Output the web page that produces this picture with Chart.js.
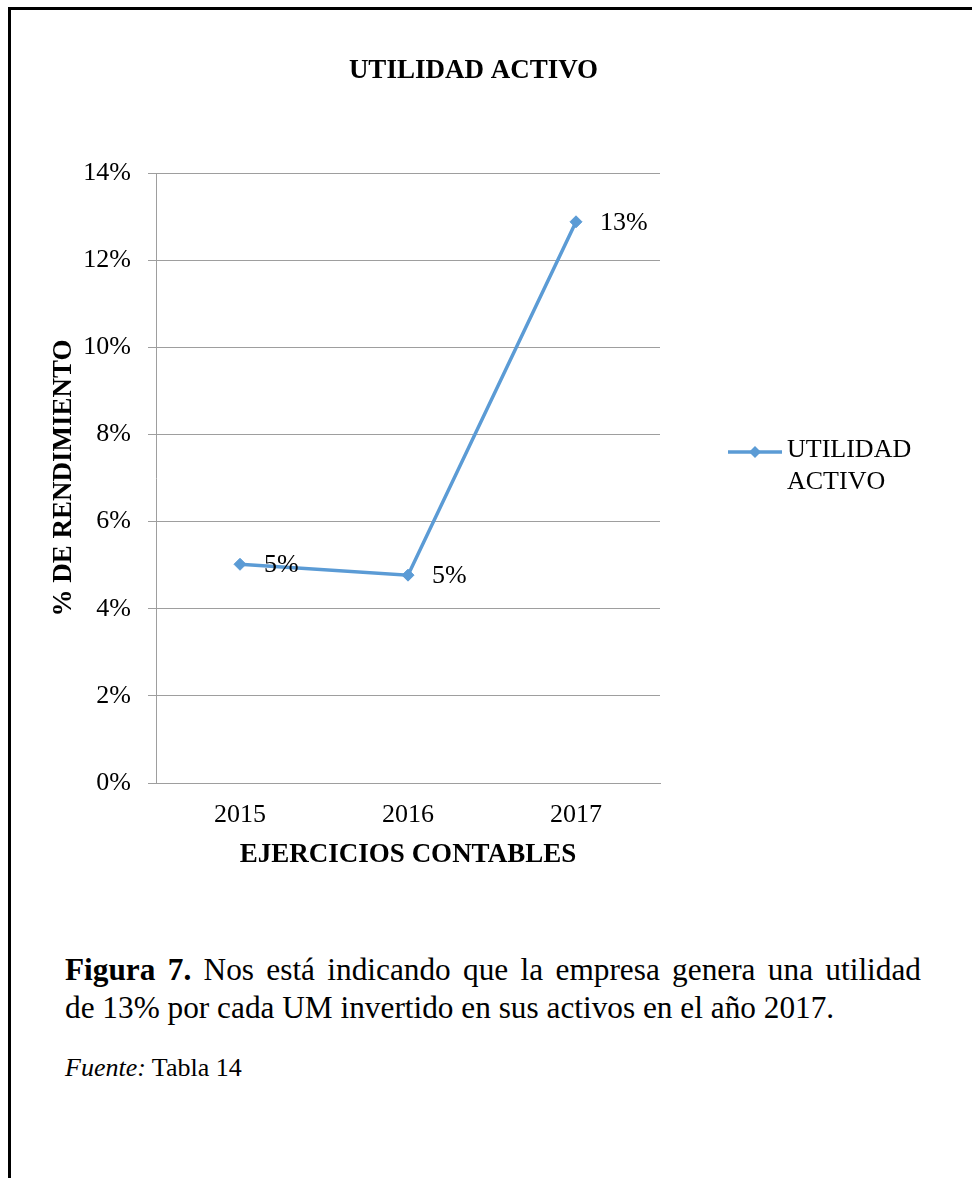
<!DOCTYPE html>
<html>
<head>
<meta charset="utf-8">
<title>Utilidad Activo</title>
<script src="https://cdn.jsdelivr.net/npm/chart.js@4.4.1/dist/chart.umd.min.js"></script>
<style>
  html, body { margin: 0; padding: 0; background: #fff; }
  body {
    width: 972px; height: 1178px; position: relative; overflow: hidden;
    font-family: 'Liberation Serif', 'Times New Roman', serif; color: #000;
  }
  #frame {
    position: absolute; left: 8px; top: 7px; width: 1000px; height: 1200px;
    border-top: 3px solid #000; border-left: 3px solid #000;
  }
  #chartBox { position: absolute; left: 0; top: 0; width: 972px; height: 900px; }
  .cap { position: absolute; left: 65px; width: 856px; font-size: 31.3px; line-height: 38px; }
  #cap1 { top: 951px; text-align: justify; text-align-last: justify; }
  #cap2 { top: 989px; }
  #src { position: absolute; left: 65px; top: 1052px; font-size: 26px; line-height: 32px; }
</style>
</head>
<body>
<div id="frame"></div>
<div id="chartBox"><canvas id="chart" width="972" height="900"></canvas></div>
<div class="cap" id="cap1"><b>Figura 7.</b> Nos está indicando que la empresa genera una utilidad</div>
<div class="cap" id="cap2">de 13% por cada UM invertido en sus activos en el año 2017.</div>
<div id="src"><i>Fuente:</i> Tabla 14</div>

<script>
// Series data
const years = ['2015', '2016', '2017'];
const utilidadActivo = [5.02, 4.77, 12.88];   // percent
const seriesName = 'UTILIDAD ACTIVO';
const yTickLabels = ['0%', '2%', '4%', '6%', '8%', '10%', '12%', '14%'];
const chartTitle = 'UTILIDAD ACTIVO';
const xAxisTitle = 'EJERCICIOS CONTABLES';
const yAxisTitle = '% DE RENDIMIENTO';

const SERIF = "'Liberation Serif', 'Times New Roman', serif";
const BLUE = '#5b9bd5';
const GRID = '#9e9e9e';

// Chart heading
const headingPlugin = {
  id: 'heading',
  afterDraw(chart) {
    const ctx = chart.ctx;
    ctx.save();
    ctx.font = 'bold 27px ' + SERIF;
    ctx.fillStyle = '#000';
    ctx.textAlign = 'center';
    ctx.textBaseline = 'middle';
    ctx.fillText(chartTitle, 473.5, 71);
    ctx.restore();
  }
};

// Value labels to the right of each point
const valueLabels = {
  id: 'valueLabels',
  afterDatasetsDraw(chart) {
    const ctx = chart.ctx;
    const meta = chart.getDatasetMeta(0);
    const data = chart.data.datasets[0].data;
    ctx.save();
    ctx.font = '26px ' + SERIF;
    ctx.fillStyle = '#000';
    ctx.textAlign = 'left';
    ctx.textBaseline = 'middle';
    meta.data.forEach((pt, i) => {
      ctx.fillText(Math.round(data[i]) + '%', pt.x + 24, pt.y + 1);
    });
    ctx.restore();
  }
};

// Legend on the right, label wrapped onto two lines
const sideLegend = {
  id: 'sideLegend',
  afterDraw(chart) {
    const ctx = chart.ctx;
    const ds = chart.data.datasets[0];
    const y = 452, x0 = 728, x1 = 782, xm = 755, r = 6;
    ctx.save();
    ctx.strokeStyle = ds.borderColor;
    ctx.lineWidth = 3.5;
    ctx.beginPath();
    ctx.moveTo(x0, y);
    ctx.lineTo(x1, y);
    ctx.stroke();
    ctx.fillStyle = ds.borderColor;
    ctx.beginPath();
    ctx.moveTo(xm, y - r);
    ctx.lineTo(xm + r, y);
    ctx.lineTo(xm, y + r);
    ctx.lineTo(xm - r, y);
    ctx.closePath();
    ctx.fill();
    ctx.font = '26px ' + SERIF;
    ctx.fillStyle = '#000';
    ctx.textAlign = 'left';
    ctx.textBaseline = 'middle';
    ds.label.split(' ').forEach((w, i) => ctx.fillText(w, 787, 450.5 + i * 32));
    ctx.restore();
  }
};

new Chart(document.getElementById('chart'), {
  type: 'line',
  data: {
    labels: years,
    datasets: [{
      label: seriesName,
      data: utilidadActivo,
      borderColor: BLUE,
      backgroundColor: BLUE,
      borderWidth: 3.5,
      tension: 0,
      fill: false,
      pointStyle: 'rectRot',
      pointRadius: 6,
      pointBorderWidth: 1,
      pointBackgroundColor: BLUE,
      pointBorderColor: BLUE
    }]
  },
  options: {
    responsive: false,
    animation: false,
    devicePixelRatio: 1,
    layout: { padding: { left: 0, top: 173, right: 312, bottom: 17 } },
    plugins: {
      legend: { display: false },
      title: { display: false },
      tooltip: { enabled: false }
    },
    scales: {
      x: {
        offset: true,
        grid: { display: false, drawTicks: false },
        border: { display: true, color: GRID, width: 1 },
        ticks: { font: { family: SERIF, size: 26 }, color: '#000', padding: 17, maxRotation: 0 },
        title: {
          display: true, text: xAxisTitle, color: '#000',
          font: { family: SERIF, size: 27, weight: 'bold' },
          padding: { top: 0, bottom: 12 }
        },
        afterFit(scale) { scale.height = 100; }
      },
      y: {
        min: 0,
        max: 14,
        ticks: {
          stepSize: 2,
          callback: (v, i) => yTickLabels[i],
          font: { family: SERIF, size: 26 }, color: '#000', padding: 17
        },
        grid: { color: GRID, lineWidth: 1, tickLength: 8, drawTicks: true },
        border: { display: true, color: GRID, width: 1 },
        title: {
          display: true, text: yAxisTitle, color: '#000',
          font: { family: SERIF, size: 27, weight: 'bold' },
          padding: { top: 48, bottom: 0 }
        },
        afterFit(scale) { scale.width = 156; }
      }
    }
  },
  plugins: [headingPlugin, valueLabels, sideLegend]
});
</script>
</body>
</html>
